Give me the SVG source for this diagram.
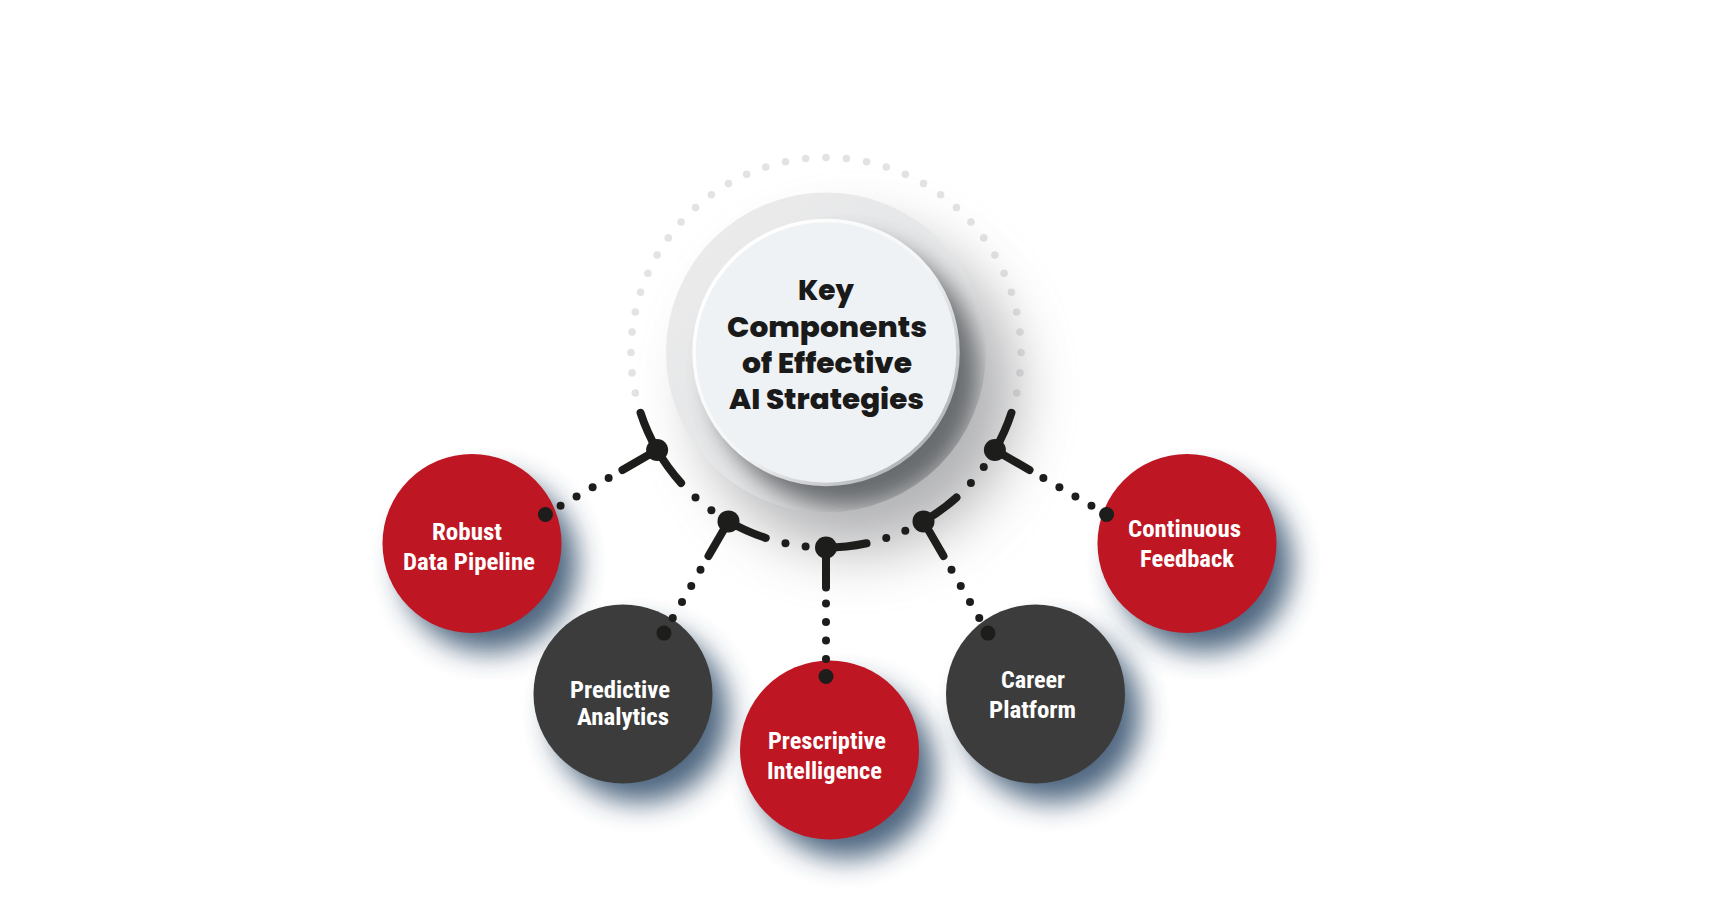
<svg xmlns="http://www.w3.org/2000/svg" width="1713" height="897" viewBox="0 0 1713 897">
  <defs>
    <style>
      .gdot { fill: #e2e3e4; }
      .bdot { fill: #1d1d1b; }
      .hub { fill: #1d1d1b; }
      .spoke { fill: none; stroke: #1d1d1b; stroke-width: 8; stroke-linecap: round; }
      .red { fill: #be1622; }
      .dark { fill: #3c3c3c; }
      .nshadow { fill: #2f4b69; opacity: 0.85; filter: url(#blurN); }
      .ntext { font-family: 'Roboto Condensed', Roboto, 'Liberation Sans Narrow', sans-serif; font-weight: 700; font-size: 24px; fill: #ffffff; text-anchor: middle; }
      .title { font-family: Poppins, Inter, 'Open Sans', sans-serif; font-weight: 800; font-size: 28px; fill: #1a1a1a; text-anchor: middle; }
    </style>
    <filter id="blurN" x="-60%" y="-60%" width="220%" height="220%">
      <feGaussianBlur stdDeviation="14"/>
    </filter>
    <filter id="blurBig" x="-60%" y="-60%" width="220%" height="220%">
      <feGaussianBlur stdDeviation="30"/>
    </filter>
    <filter id="blurIn" x="-30%" y="-30%" width="160%" height="160%">
      <feGaussianBlur stdDeviation="12"/>
    </filter>
    <clipPath id="ringClip">
      <circle cx="826" cy="352.5" r="160"/>
    </clipPath>
    <linearGradient id="ringGrad" x1="0" y1="0" x2="1" y2="1">
      <stop offset="0" stop-color="#ececed"/>
      <stop offset="0.55" stop-color="#e5e6e7"/>
      <stop offset="1" stop-color="#c9cacc"/>
    </linearGradient>
    <linearGradient id="rimGrad" x1="0.15" y1="0.15" x2="0.85" y2="0.85">
      <stop offset="0" stop-color="#ffffff"/>
      <stop offset="0.55" stop-color="#f4f5f6"/>
      <stop offset="1" stop-color="#b4b6b9"/>
    </linearGradient>
  </defs>

  <rect width="1713" height="897" fill="#ffffff"/>

  <!-- dotted decorative arc -->
  <g id="dotted-arc">
    <circle class="gdot" cx="635.26" cy="393.04" r="3.8"/>
    <circle class="gdot" cx="632.07" cy="372.88" r="3.8"/>
    <circle class="gdot" cx="631" cy="352.5" r="3.8"/>
    <circle class="gdot" cx="632.07" cy="332.12" r="3.8"/>
    <circle class="gdot" cx="635.26" cy="311.96" r="3.8"/>
    <circle class="gdot" cx="640.54" cy="292.24" r="3.8"/>
    <circle class="gdot" cx="647.86" cy="273.19" r="3.8"/>
    <circle class="gdot" cx="657.12" cy="255" r="3.8"/>
    <circle class="gdot" cx="668.24" cy="237.88" r="3.8"/>
    <circle class="gdot" cx="681.09" cy="222.02" r="3.8"/>
    <circle class="gdot" cx="695.52" cy="207.59" r="3.8"/>
    <circle class="gdot" cx="711.38" cy="194.74" r="3.8"/>
    <circle class="gdot" cx="728.5" cy="183.62" r="3.8"/>
    <circle class="gdot" cx="746.69" cy="174.36" r="3.8"/>
    <circle class="gdot" cx="765.74" cy="167.04" r="3.8"/>
    <circle class="gdot" cx="785.46" cy="161.76" r="3.8"/>
    <circle class="gdot" cx="805.62" cy="158.57" r="3.8"/>
    <circle class="gdot" cx="826" cy="157.5" r="3.8"/>
    <circle class="gdot" cx="846.38" cy="158.57" r="3.8"/>
    <circle class="gdot" cx="866.54" cy="161.76" r="3.8"/>
    <circle class="gdot" cx="886.26" cy="167.04" r="3.8"/>
    <circle class="gdot" cx="905.31" cy="174.36" r="3.8"/>
    <circle class="gdot" cx="923.5" cy="183.62" r="3.8"/>
    <circle class="gdot" cx="940.62" cy="194.74" r="3.8"/>
    <circle class="gdot" cx="956.48" cy="207.59" r="3.8"/>
    <circle class="gdot" cx="970.91" cy="222.02" r="3.8"/>
    <circle class="gdot" cx="983.76" cy="237.88" r="3.8"/>
    <circle class="gdot" cx="994.88" cy="255" r="3.8"/>
    <circle class="gdot" cx="1004.14" cy="273.19" r="3.8"/>
    <circle class="gdot" cx="1011.46" cy="292.24" r="3.8"/>
    <circle class="gdot" cx="1016.74" cy="311.96" r="3.8"/>
    <circle class="gdot" cx="1019.93" cy="332.12" r="3.8"/>
    <circle class="gdot" cx="1021" cy="352.5" r="3.8"/>
    <circle class="gdot" cx="1019.93" cy="372.88" r="3.8"/>
    <circle class="gdot" cx="1016.74" cy="393.04" r="3.8"/>
  </g>

  <!-- central node -->
  <g id="center-node">
    <circle cx="858" cy="392" r="158" fill="#7f8083" opacity="0.6" filter="url(#blurBig)"/>
    <circle cx="826" cy="352.5" r="160" fill="url(#ringGrad)"/>
    <g clip-path="url(#ringClip)">
      <circle cx="846" cy="374" r="134" fill="#55585c" opacity="0.85" filter="url(#blurIn)"/>
    </g>
    <circle cx="826" cy="352.5" r="132" fill="#eff2f4" stroke="url(#rimGrad)" stroke-width="3.5"/>
    <text class="title" x="826" y="300">Key</text>
    <text class="title" x="827" y="337" textLength="200" lengthAdjust="spacingAndGlyphs">Components</text>
    <text class="title" x="827" y="373" textLength="170" lengthAdjust="spacingAndGlyphs">of Effective</text>
    <text class="title" x="826.5" y="409" textLength="195" lengthAdjust="spacingAndGlyphs">AI Strategies</text>
  </g>

  <!-- component nodes -->
  <g id="node-robust">
    <circle class="nshadow" cx="489" cy="564" r="88"/>
    <circle class="red" cx="472" cy="543.5" r="89.5"/>
    <text class="ntext" x="467" y="540" textLength="70" lengthAdjust="spacingAndGlyphs">Robust</text>
    <text class="ntext" x="469" y="570" textLength="132" lengthAdjust="spacingAndGlyphs">Data Pipeline</text>
  </g>
  <g id="node-predictive">
    <circle class="nshadow" cx="640" cy="714.5" r="88"/>
    <circle class="dark" cx="623" cy="694" r="89.5"/>
    <text class="ntext" x="620" y="698" textLength="100" lengthAdjust="spacingAndGlyphs">Predictive</text>
    <text class="ntext" x="623" y="725" textLength="92" lengthAdjust="spacingAndGlyphs">Analytics</text>
  </g>
  <g id="node-prescriptive">
    <circle class="nshadow" cx="846.5" cy="770.5" r="88"/>
    <circle class="red" cx="829.5" cy="750" r="89.5"/>
    <text class="ntext" x="827" y="749" textLength="118" lengthAdjust="spacingAndGlyphs">Prescriptive</text>
    <text class="ntext" x="824.5" y="779" textLength="115" lengthAdjust="spacingAndGlyphs">Intelligence</text>
  </g>
  <g id="node-career">
    <circle class="nshadow" cx="1052.5" cy="714.5" r="88"/>
    <circle class="dark" cx="1035.5" cy="694" r="89.5"/>
    <text class="ntext" x="1033" y="688" textLength="64" lengthAdjust="spacingAndGlyphs">Career</text>
    <text class="ntext" x="1032.5" y="718" textLength="87" lengthAdjust="spacingAndGlyphs">Platform</text>
  </g>
  <g id="node-continuous">
    <circle class="nshadow" cx="1204" cy="564" r="88"/>
    <circle class="red" cx="1187" cy="543.5" r="89.5"/>
    <text class="ntext" x="1184.5" y="537" textLength="113" lengthAdjust="spacingAndGlyphs">Continuous</text>
    <text class="ntext" x="1187" y="567" textLength="94" lengthAdjust="spacingAndGlyphs">Feedback</text>
  </g>

  <!-- connectors -->
  <g id="connectors">
    <!-- arc spokes -->
    <path class="spoke" d="M640.54,412.76 A195,195 0 0 0 657.12,450"/>
    <path class="spoke" d="M657.12,450 A195,195 0 0 0 681.09,482.98"/>
    <path class="spoke" d="M728.5,521.38 A195,195 0 0 0 765.74,537.96"/>
    <path class="spoke" d="M826,547.5 A195,195 0 0 0 866.54,543.24"/>
    <path class="spoke" d="M923.5,521.38 A195,195 0 0 0 956.48,497.41"/>
    <path class="spoke" d="M994.88,450 A195,195 0 0 0 1011.46,412.76"/>
    <!-- radial spokes -->
    <path class="spoke" d="M657.12,450 L622.48,470"/>
    <path class="spoke" d="M728.5,521.38 L708.5,556.02"/>
    <path class="spoke" d="M826,547.5 L826,587.5"/>
    <path class="spoke" d="M923.5,521.38 L943.5,556.02"/>
    <path class="spoke" d="M994.88,450 L1029.52,470"/>
    <!-- arc dots -->
    <circle class="bdot" cx="695.52" cy="497.41" r="4"/>
    <circle class="bdot" cx="711.38" cy="510.26" r="4"/>
    <circle class="bdot" cx="785.46" cy="543.24" r="4"/>
    <circle class="bdot" cx="805.62" cy="546.43" r="4"/>
    <circle class="bdot" cx="886.26" cy="537.96" r="4"/>
    <circle class="bdot" cx="905.31" cy="530.64" r="4"/>
    <circle class="bdot" cx="970.91" cy="482.98" r="4"/>
    <circle class="bdot" cx="983.76" cy="467.12" r="4"/>
    <!-- radial dots -->
    <circle class="bdot" cx="608.63" cy="478" r="4"/>
    <circle class="bdot" cx="592.6" cy="487.25" r="4"/>
    <circle class="bdot" cx="576.58" cy="496.5" r="4"/>
    <circle class="bdot" cx="560.56" cy="505.75" r="4"/>
    <circle class="bdot" cx="700.5" cy="569.87" r="4"/>
    <circle class="bdot" cx="691.25" cy="585.9" r="4"/>
    <circle class="bdot" cx="682" cy="601.92" r="4"/>
    <circle class="bdot" cx="672.75" cy="617.94" r="4"/>
    <circle class="bdot" cx="826" cy="603.5" r="4"/>
    <circle class="bdot" cx="826" cy="622" r="4"/>
    <circle class="bdot" cx="826" cy="640.5" r="4"/>
    <circle class="bdot" cx="826" cy="659" r="4"/>
    <circle class="bdot" cx="951.5" cy="569.87" r="4"/>
    <circle class="bdot" cx="960.75" cy="585.9" r="4"/>
    <circle class="bdot" cx="970" cy="601.92" r="4"/>
    <circle class="bdot" cx="979.25" cy="617.94" r="4"/>
    <circle class="bdot" cx="1043.37" cy="478" r="4"/>
    <circle class="bdot" cx="1059.4" cy="487.25" r="4"/>
    <circle class="bdot" cx="1075.42" cy="496.5" r="4"/>
    <circle class="bdot" cx="1091.44" cy="505.75" r="4"/>
    <!-- hubs -->
    <circle class="hub" cx="657.12" cy="450" r="11"/>
    <circle class="hub" cx="728.5" cy="521.38" r="11"/>
    <circle class="hub" cx="826" cy="547.5" r="11"/>
    <circle class="hub" cx="923.5" cy="521.38" r="11"/>
    <circle class="hub" cx="994.88" cy="450" r="11"/>
    <!-- node end dots -->
    <circle class="hub" cx="545.41" cy="514.5" r="7.5"/>
    <circle class="hub" cx="664" cy="633.09" r="7.5"/>
    <circle class="hub" cx="826" cy="676.5" r="7.5"/>
    <circle class="hub" cx="988" cy="633.09" r="7.5"/>
    <circle class="hub" cx="1106.59" cy="514.5" r="7.5"/>
  </g>
</svg>
